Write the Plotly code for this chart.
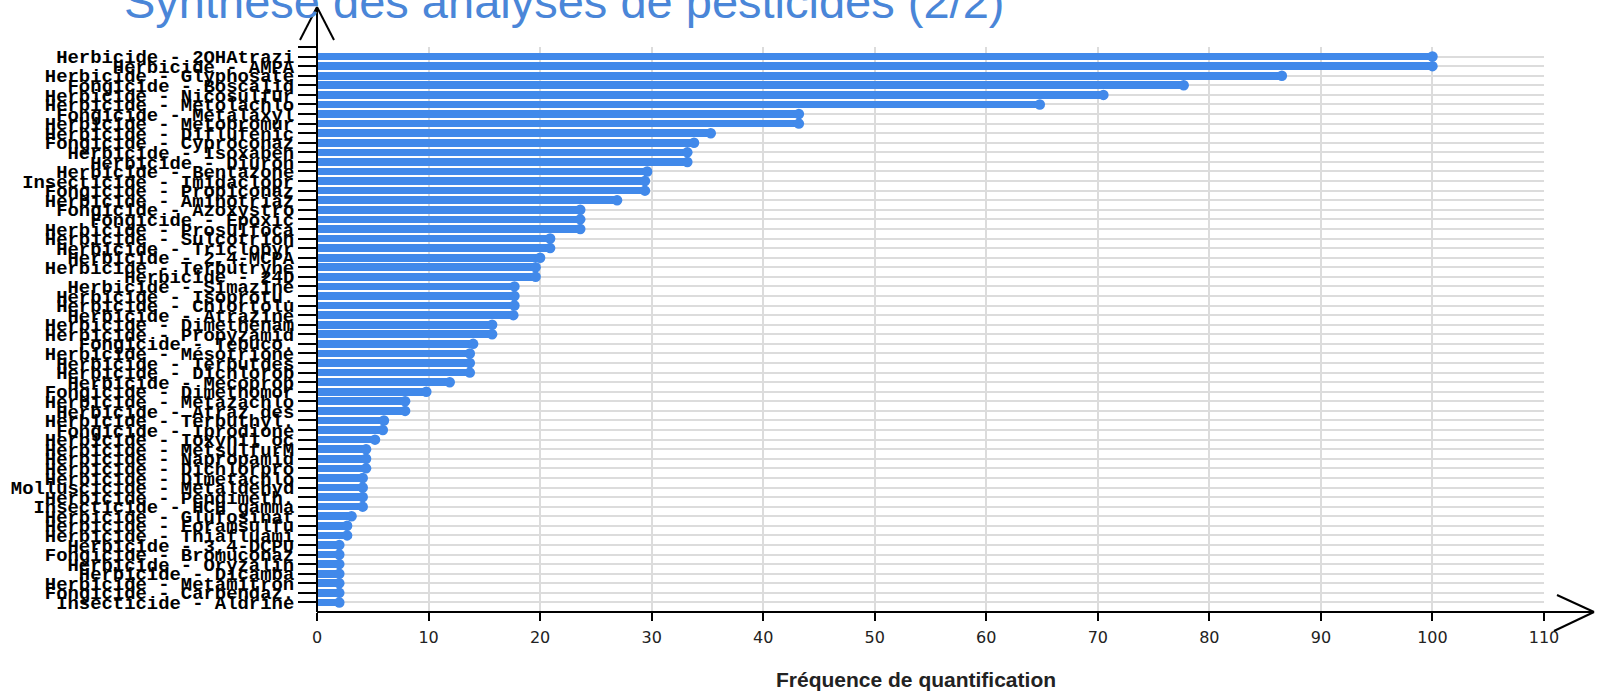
import plotly.graph_objects as go

# ---------------- data ----------------
labels = [
    "Herbicide - 2OHAtrazi", "Herbicide - AMPA", "Herbicide - Glyphosate",
    "Fongicide - Boscalid", "Herbicide - Nicosulfur", "Herbicide - Metolachlo",
    "Fongicide - Metalaxyl", "Herbicide - Metobromur", "Herbicide - Diflufenic",
    "Fongicide - Cyproconaz", "Herbicide - Isoxaben", "Herbicide - Diuron",
    "Herbicide - Bentazone", "Insecticide - Imidaclopr", "Fongicide - Propiconaz",
    "Herbicide - Aminotriaz", "Fongicide - Azoxystro", "Fongicide - Epoxic",
    "Herbicide - Prosulfoca", "Herbicide - Sulcotrion", "Herbicide - Triclopyr",
    "Herbicide - 2,4-MCPA", "Herbicide - Terbutryne", "Herbicide - 24D",
    "Herbicide - Simazine", "Herbicide - Isoprotu.", "Herbicide - Chlortolu",
    "Herbicide - Atrazine", "Herbicide - Dimethenam", "Herbicide - Propyzamid",
    "Fongicide - Tebuco.", "Herbicide - Mésotrione", "Herbicide - Terbutdes",
    "Herbicide - Dichlorob", "Herbicide - Mecoprop", "Fongicide - Dimethomor",
    "Herbicide - Metazachlo", "Herbicide - Atraz des", "Herbicide - Terbuthyl.",
    "Fongicide - Iprodione", "Herbicide - Ioxynil oc", "Herbicide - MetsulfurM",
    "Herbicide - Napropamid", "Herbicide - Dichlorpro", "Herbicide - Dimetachlo",
    "Molluscicide - Metaldehyd", "Herbicide - Pendimeth.", "Insecticide - HCH gamma",
    "Herbicide - Glufosinat", "Herbicide - Foramsulfu", "Herbicide - Thiafluami",
    "Herbicide - 3,4-DCPU", "Fongicide - Bromuconaz", "Herbicide - Oryzalin",
    "Herbicide - Dicamba", "Herbicide - Metamitron", "Fongicide - Carbendaz.",
    "Insecticide - Aldrine",
]
values = [
    100.0, 100.0, 86.5,
    77.7, 70.5, 64.8,
    43.2, 43.2, 35.3,
    33.8, 33.2, 33.2,
    29.6, 29.4, 29.4,
    26.9, 23.6, 23.6,
    23.6, 20.9, 20.9,
    20.0, 19.6, 19.6,
    17.7, 17.7, 17.7,
    17.6, 15.7, 15.7,
    14.0, 13.7, 13.7,
    13.7, 11.9, 9.8,
    7.9, 7.9, 6.0,
    5.9, 5.2, 4.4,
    4.4, 4.4, 4.1,
    4.1, 4.1, 4.1,
    3.1, 2.7, 2.7,
    2.0, 2.0, 2.0,
    2.0, 2.0, 2.0,
    2.0,
]
x_ticks = [0, 10, 20, 30, 40, 50, 60, 70, 80, 90, 100, 110]
title_text = "Synthèse des analyses de pesticides (2/2)"
x_title = "Fréquence de quantification"

# ---------------- layout constants ----------------
W, H = 1600, 694
L, R, T, B = 317, 56, 47, 82
PW = W - L - R
PH = H - T - B
BLUE = "#4189ea"
GRID = "#dcdcdc"


def px_x(px):
    return (px - L) / PW


def px_y(py):
    return (H - B - py) / PH


n = len(labels)
idx = list(range(n))

fig = go.Figure()
fig.add_trace(go.Bar(
    x=values, y=idx, orientation="h", width=0.8,
    marker=dict(color=BLUE, line=dict(width=0)),
    hoverinfo="skip",
))
fig.add_trace(go.Scatter(
    x=values, y=idx, mode="markers",
    marker=dict(size=10.5, color=BLUE, line=dict(width=0)),
    cliponaxis=False, hoverinfo="skip",
))

fig.update_layout(
    width=W, height=H,
    margin=dict(l=L, r=R, t=T, b=B, pad=0, autoexpand=False),
    plot_bgcolor="white", paper_bgcolor="white",
    showlegend=False, bargap=0,
)
fig.update_xaxes(
    range=[0, 110], tickvals=x_ticks, ticktext=[str(v) for v in x_ticks],
    ticks="outside", ticklen=8, tickwidth=1.5, tickcolor="black",
    showgrid=True, gridcolor=GRID, gridwidth=1.5,
    zeroline=False, showline=False, ticklabelstandoff=3,
    tickfont=dict(family="DejaVu Sans", size=16, color="#222"),
)
fig.update_yaxes(
    range=[n, -1], tickvals=[-1] + idx, ticktext=[""] + labels,
    ticks="outside", ticklen=18, tickwidth=1.5, tickcolor="black",
    showgrid=True, gridcolor=GRID, gridwidth=1.5,
    zeroline=False, showline=False,
    tickfont=dict(family="Liberation Mono, Courier New, monospace", size=18.9,
                  color="black", weight="bold"),
)

# axis lines with open arrow heads
line_style = dict(color="black", width=2)
shapes = [
    # y axis
    dict(type="line", xref="paper", yref="paper", x0=0, x1=0,
         y0=px_y(H - B), y1=px_y(7), line=line_style),
    dict(type="line", xref="paper", yref="paper", x0=px_x(300), x1=0,
         y0=px_y(40), y1=px_y(7), line=line_style),
    dict(type="line", xref="paper", yref="paper", x0=px_x(334), x1=0,
         y0=px_y(40), y1=px_y(7), line=line_style),
    # x axis
    dict(type="line", xref="paper", yref="paper", x0=0, x1=px_x(1594),
         y0=0, y1=0, line=line_style),
    dict(type="line", xref="paper", yref="paper", x0=px_x(1557), x1=px_x(1594),
         y0=px_y(595), y1=0, line=line_style),
    dict(type="line", xref="paper", yref="paper", x0=px_x(1554), x1=px_x(1594),
         y0=px_y(631), y1=0, line=line_style),
]
fig.update_layout(shapes=shapes)

fig.add_annotation(
    text=title_text, xref="paper", yref="paper",
    x=px_x(122), y=px_y(30), xanchor="left", yanchor="bottom",
    showarrow=False,
    font=dict(family="Liberation Sans, Arial, sans-serif", size=47, color="#4a86d8"),
)
fig.add_annotation(
    text=x_title, xref="paper", yref="paper",
    x=px_x(916), y=px_y(679), xanchor="center", yanchor="middle",
    showarrow=False,
    font=dict(family="Liberation Sans, Arial, sans-serif", size=21,
              color="#222", weight="bold"),
)

fig.write_html("out.html")
